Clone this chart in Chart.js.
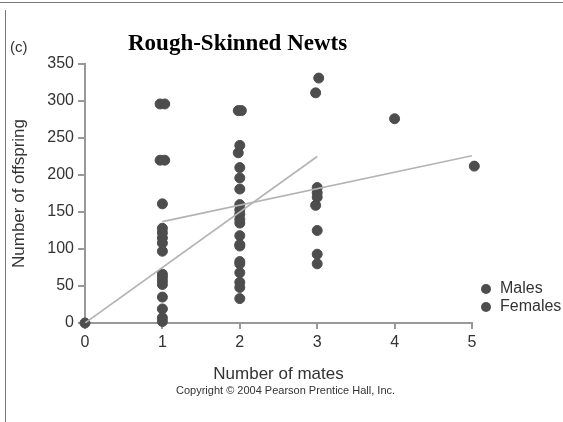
<!DOCTYPE html>
<html>
<head>
<meta charset="utf-8">
<title>Rough-Skinned Newts</title>
<script src="https://cdn.jsdelivr.net/npm/chart.js@4.4.1/dist/chart.umd.min.js"></script>
<style>
  html, body { margin: 0; padding: 0; background: #fff; }
  #wrap { position: relative; width: 563px; height: 422px; overflow: hidden;
          font-family: "Liberation Sans", Arial, sans-serif; color: #333; }
  #newtChart { position: absolute; left: 0; top: 0; }
  .topline { position: absolute; left: 0; top: 2px; width: 563px; height: 1px; background: #777; }
  .leftline { position: absolute; left: 5px; top: 10px; width: 1px; height: 412px; background: #777; }
  #panel { position: absolute; left: 10px; top: 38px; font-size: 15px; }
  #title { position: absolute; left: 128px; top: 30px; color: #000;
           font: bold 23px "Liberation Serif", "Times New Roman", serif; }
  #copy { position: absolute; left: 176px; top: 384px; font-size: 11px; color: #333; white-space: nowrap; }
  #legend { position: absolute; left: 481px; top: 279px; font-size: 16px; line-height: 18px; color: #333; }
  #legend div { white-space: nowrap; }
  #legend span { display: inline-block; width: 10px; height: 10px; border-radius: 50%;
                 background: #4d4d4d; margin-right: 9px; vertical-align: -1px; }
</style>
</head>
<body>
<div id="wrap">
  <canvas id="newtChart" width="563" height="422"></canvas>
  <div class="topline"></div>
  <div class="leftline"></div>
  <div id="panel">(c)</div>
  <div id="title">Rough-Skinned Newts</div>
  <div id="legend">
    <div><span></span>Males</div>
    <div><span></span>Females</div>
  </div>
  <div id="copy">Copyright © 2004 Pearson Prentice Hall, Inc.</div>
</div>
<script>
// values
const malesMates = [0,
  0.97, 0.97, 1, 1, 1, 1, 1, 1, 1,
  1.98, 1.98, 2, 2, 2, 2, 2, 2, 2, 2,
  3.02, 3, 3, 3, 3];
const malesOffspring = [0,
  296, 220, 161, 122, 108, 62, 52, 19, 2,
  287, 230, 196, 160, 147, 135, 106, 83, 68, 48,
  331, 183, 170, 125, 80];

const femalesMates = [
  1.03, 1.03, 1, 1, 1, 1, 1, 1, 1,
  2.02, 2, 2, 2, 2, 2, 2, 2, 2, 2, 2,
  2.98, 3, 2.98, 3,
  4, 5.03];
const femalesOffspring = [
  296, 220, 128, 115, 97, 66, 57, 35, 7,
  287, 240, 210, 181, 153, 140, 118, 104, 80, 55, 33,
  311, 176, 159, 93,
  276, 212];

// fitted lines
const maleFitMates = [0, 3];
const maleFitOffspring = [0, 225];
const femaleFitMates = [1, 5];
const femaleFitOffspring = [137, 226];

const yTicks = [0, 50, 100, 150, 200, 250, 300, 350];
const xTicks = [0, 1, 2, 3, 4, 5];

const toPoints = (xs, ys) => xs.map((x, i) => ({ x: x, y: ys[i] }));

const dotColor = '#4d4d4d';
const axisColor = '#999';

new Chart(document.getElementById('newtChart'), {
    type: 'scatter',
    data: {
        datasets: [{
            label: 'Males fit',
            type: 'line',
            data: toPoints(maleFitMates, maleFitOffspring),
            borderColor: '#b3b3b3',
            borderWidth: 1.6,
            pointRadius: 0,
            fill: false
        }, {
            label: 'Females fit',
            type: 'line',
            data: toPoints(femaleFitMates, femaleFitOffspring),
            borderColor: '#b3b3b3',
            borderWidth: 1.6,
            pointRadius: 0,
            fill: false
        }, {
            label: 'Males',
            data: toPoints(malesMates, malesOffspring),
            backgroundColor: dotColor,
            borderColor: dotColor,
            pointRadius: 5,
            clip: false
        }, {
            label: 'Females',
            data: toPoints(femalesMates, femalesOffspring),
            backgroundColor: dotColor,
            borderColor: dotColor,
            pointRadius: 5,
            clip: false
        }]
    },
    options: {
        responsive: false,
        animation: false,
        layout: { padding: { left: 0, top: 64, right: 91, bottom: 37 } },
        plugins: {
            legend: { display: false },
            tooltip: { enabled: false }
        },
        scales: {
            x: {
                type: 'linear',
                min: 0,
                max: 5,
                afterBuildTicks: s => { s.ticks = xTicks.map(v => ({ value: v })); },
                afterFit: s => { s.height = 62; },
                border: { color: axisColor, width: 2 },
                grid: { drawOnChartArea: false, drawTicks: true, tickLength: 6, color: axisColor, lineWidth: 2 },
                ticks: { color: '#333', padding: 4, font: { family: 'Liberation Sans', size: 16 } },
                title: {
                    display: true,
                    text: 'Number of mates',
                    color: '#333',
                    padding: 0,
                    font: { family: 'Liberation Sans', size: 17 }
                }
            },
            y: {
                min: 0,
                max: 350,
                afterBuildTicks: s => { s.ticks = yTicks.map(v => ({ value: v })); },
                afterFit: s => { s.width = 85; },
                border: { color: axisColor, width: 2 },
                grid: { drawOnChartArea: false, drawTicks: true, tickLength: 7, color: axisColor, lineWidth: 2 },
                ticks: { color: '#333', padding: 4, font: { family: 'Liberation Sans', size: 16 } },
                title: {
                    display: true,
                    text: 'Number of offspring',
                    color: '#333',
                    padding: { top: 9, bottom: 0 },
                    font: { family: 'Liberation Sans', size: 17 }
                }
            }
        }
    }
});
</script>
</body>
</html>
